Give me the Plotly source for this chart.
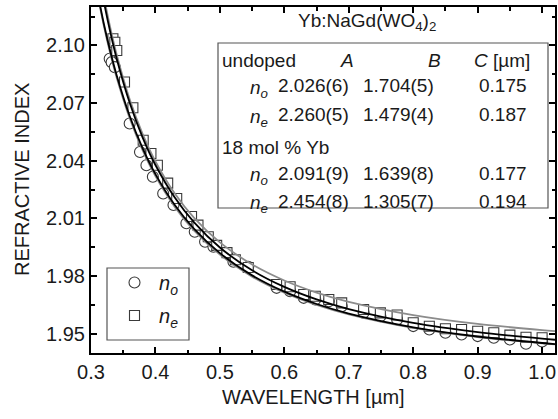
import plotly.graph_objects as go

wl_o = [0.329, 0.332, 0.337, 0.360, 0.376, 0.386, 0.396, 0.412, 0.428, 0.448, 0.461, 0.477,
        0.490, 0.511, 0.521, 0.544, 0.588, 0.609, 0.630, 0.648, 0.669, 0.689, 0.723, 0.749,
        0.775, 0.800, 0.825, 0.850, 0.875, 0.900, 0.925, 0.950, 0.975, 1.000]
n_o = [2.0931, 2.0913, 2.0887, 2.0594, 2.0446, 2.0377, 2.0317, 2.0230, 2.0170, 2.0075, 2.0031, 1.9979,
       1.9953, 1.9919, 1.9875, 1.9849, 1.9739, 1.9721, 1.9687, 1.9678, 1.9669, 1.9643, 1.9609, 1.9591,
       1.9574, 1.9540, 1.9522, 1.9505, 1.9496, 1.9488, 1.9479, 1.9470, 1.9448, 1.9460]

wl_e = [0.334, 0.337, 0.340, 0.352, 0.365, 0.381, 0.393, 0.403, 0.419, 0.433, 0.456, 0.466,
        0.482, 0.495, 0.511, 0.524, 0.544, 0.588, 0.609, 0.630, 0.648, 0.669, 0.689, 0.723,
        0.749, 0.775, 0.800, 0.825, 0.850, 0.875, 0.900, 0.925, 0.950, 0.975, 1.000]
n_e = [2.1035, 2.1017, 2.0974, 2.0810, 2.0676, 2.0507, 2.0438, 2.0377, 2.0284, 2.0204, 2.0110, 2.0065,
       2.0005, 1.9960, 1.9922, 1.9885, 1.9845, 1.9756, 1.9745, 1.9704, 1.9695, 1.9678, 1.9661, 1.9626,
       1.9609, 1.9598, 1.9557, 1.9539, 1.9526, 1.9522, 1.9513, 1.9505, 1.9493, 1.9482, 1.9479]

# Fitted curves
wl_fit = [0.31, 0.32, 0.33, 0.34, 0.36, 0.38, 0.40, 0.43, 0.46, 0.50, 0.55, 0.60, 0.65, 0.70,
          0.80, 0.90, 1.00, 1.02]
fit_undoped_o = [2.12768, 2.11118, 2.09683, 2.08426, 2.06331, 2.04663, 2.03306, 2.01699, 2.00458,
                 1.99195, 1.98039, 1.97191, 1.96549, 1.96051, 1.95337, 1.94858, 1.94521, 1.94465]
fit_undoped_e = [2.14127, 2.12273, 2.10679, 2.09295, 2.07015, 2.05222, 2.03781, 2.02088, 2.00794,
                 1.99487, 1.98301, 1.97437, 1.96786, 1.96282, 1.95563, 1.95083, 1.94746, 1.94690]
fit_yb_o = [2.12668, 2.11010, 2.09570, 2.08310, 2.06216, 2.04551, 2.03201, 2.01603, 2.00371,
            1.99118, 1.97974, 1.97135, 1.96501, 1.96008, 1.95304, 1.94832, 1.94500, 1.94445]
fit_yb_e = [2.14455, 2.12541, 2.10908, 2.09499, 2.07197, 2.05403, 2.03970, 2.02300, 2.01031,
            1.99757, 1.98606, 1.97772, 1.97145, 1.96662, 1.95973, 1.95514, 1.95193, 1.95140]

x_ticks = [0.3, 0.4, 0.5, 0.6, 0.7, 0.8, 0.9, 1.0]
y_ticks = [1.95, 1.98, 2.01, 2.04, 2.07, 2.10]

table_header = ["undoped", "<i>A</i>", "<i>B</i>", "<i>C</i> [µm]"]
table_rows = [
    ("<i>n</i><sub><i>o</i></sub>", "2.026(6)", "1.704(5)", "0.175"),
    ("<i>n</i><sub><i>e</i></sub>", "2.260(5)", "1.479(4)", "0.187"),
    ("<i>n</i><sub><i>o</i></sub>", "2.091(9)", "1.639(8)", "0.177"),
    ("<i>n</i><sub><i>e</i></sub>", "2.454(8)", "1.305(7)", "0.194"),
]

FONT = "Liberation Sans, Arial, sans-serif"
INK = "#1a1a1a"
MK = "#3a3a3a"

fig = go.Figure()

fig.add_trace(go.Scatter(x=wl_o, y=n_o, mode="markers", name="<i>n</i><sub><i>o</i></sub>",
                         marker=dict(symbol="circle", size=11, color="white",
                                     line=dict(color=MK, width=1.1)),
                         legendgroup="o"))
fig.add_trace(go.Scatter(x=wl_e, y=n_e, mode="markers", name="<i>n</i><sub><i>e</i></sub>",
                         marker=dict(symbol="square", size=10, color="white",
                                     line=dict(color=MK, width=1.1)),
                         legendgroup="e"))

for ys, col in [(fit_yb_o, "#8c8c8c"), (fit_yb_e, "#8c8c8c"),
                (fit_undoped_o, "#000000"), (fit_undoped_e, "#000000")]:
    fig.add_trace(go.Scatter(x=wl_fit, y=ys, mode="lines", showlegend=False,
                             line=dict(color=col, width=1.8, shape="spline", smoothing=0.8),
                             hoverinfo="skip"))

axis_common = dict(showline=True, linecolor="black", linewidth=2, mirror="ticks",
                   ticks="inside", ticklen=6, tickwidth=1.8, tickcolor="black",
                   showgrid=False, zeroline=False, automargin=False,
                   tickfont=dict(family=FONT, size=20, color=INK),
                   minor=dict(ticks="inside", ticklen=3.5, tickwidth=1.5, tickcolor="black"))

fig.update_xaxes(range=[0.3, 1.02], tickvals=x_ticks, ticktext=[f"{v:.1f}" for v in x_ticks],
                 minor_dtick=0.05, **axis_common)
fig.update_yaxes(range=[1.94, 2.12], tickvals=y_ticks, ticktext=[f"{v:.2f}" for v in y_ticks],
                 minor_dtick=0.015, **axis_common)


def px_x(px):
    return (px - 91) / 464.0


def px_y(py):
    return (353 - py) / 346.0


ann = []
# axis titles
ann.append(dict(text="WAVELENGTH [µm]", xref="paper", yref="paper", x=px_x(313), y=px_y(397),
                xanchor="center", yanchor="middle", showarrow=False,
                font=dict(family=FONT, size=20, color=INK)))
ann.append(dict(text="REFRACTIVE INDEX", xref="paper", yref="paper", x=px_x(22), y=px_y(180),
                xanchor="center", yanchor="middle", textangle=-90, showarrow=False,
                font=dict(family=FONT, size=20, color=INK)))

ann.append(dict(text="Yb:NaGd(WO<sub>4</sub>)<sub>2</sub>", xref="paper", yref="paper",
                x=px_x(367), y=px_y(22), xanchor="center", yanchor="middle", showarrow=False,
                font=dict(family=FONT, size=19, color=INK)))

tf = dict(family=FONT, size=19, color=INK)
# header
ann.append(dict(text=table_header[0], xref="paper", yref="paper", x=px_x(220), y=px_y(61),
                xanchor="left", yanchor="middle", showarrow=False, font=tf))
for txt, cx in zip(table_header[1:], [347, 434, 502]):
    ann.append(dict(text=txt, xref="paper", yref="paper", x=px_x(cx), y=px_y(61),
                    xanchor="center", yanchor="middle", showarrow=False, font=tf))
ann.append(dict(text="18 mol % Yb", xref="paper", yref="paper", x=px_x(220), y=px_y(147),
                xanchor="left", yanchor="middle", showarrow=False, font=tf))
row_y = [86, 115, 173, 201]
for (lab, a, b, c), ry in zip(table_rows, row_y):
    ann.append(dict(text=lab, xref="paper", yref="paper", x=px_x(259), y=px_y(ry + 3),
                    xanchor="center", yanchor="middle", showarrow=False, font=tf))
    for txt, cx in zip((a, b, c), (313, 398, 503)):
        ann.append(dict(text=txt, xref="paper", yref="paper", x=px_x(cx), y=px_y(ry),
                        xanchor="center", yanchor="middle", showarrow=False, font=tf))

shapes = [
    dict(type="rect", xref="paper", yref="paper", x0=px_x(218), x1=px_x(548),
         y0=px_y(208), y1=px_y(43), line=dict(color="#555555", width=1.2)),
    dict(type="rect", xref="paper", yref="paper", x0=px_x(107), x1=px_x(189),
         y0=px_y(340), y1=px_y(268), line=dict(color="#555555", width=1.2)),
]

fig.update_layout(
    width=558, height=419,
    margin=dict(l=91, r=3, t=7, b=66, autoexpand=False),
    paper_bgcolor="white", plot_bgcolor="white",
    annotations=ann, shapes=shapes,
    showlegend=True,
    legend=dict(x=px_x(110), y=px_y(263), xanchor="left", yanchor="top",
                borderwidth=0, bgcolor="rgba(0,0,0,0)",
                font=dict(family=FONT, size=20, color=INK),
                traceorder="grouped", tracegroupgap=4, itemwidth=39),
)

fig.write_html("out.html", config={"displayModeBar": False},
               post_script="document.body.style.margin='0';document.body.style.overflow='hidden';")
